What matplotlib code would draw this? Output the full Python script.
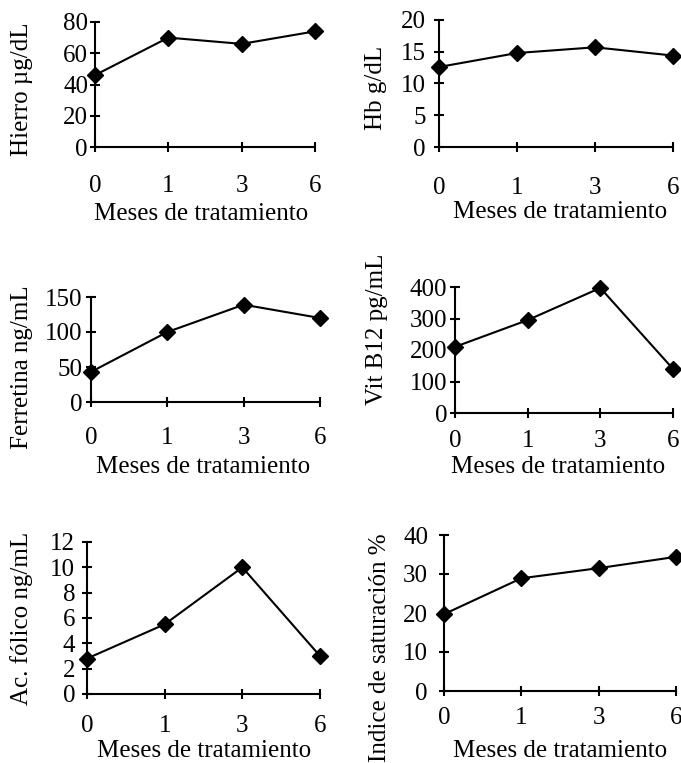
import matplotlib
matplotlib.use("Agg")
import matplotlib.pyplot as plt

plt.rcParams["font.family"] = ["Liberation Serif", "DejaVu Serif"]

# ---- data ---------------------------------------------------------------
months = ["0", "1", "3", "6"]
hierro = [46, 70, 66, 74]
hb = [12.6, 14.8, 15.7, 14.4]
ferritina = [43, 100, 139, 120]
vit_b12 = [210, 295, 397, 140]
ac_folico = [2.8, 5.5, 10.0, 3.0]
saturacion = [19.7, 28.9, 31.5, 34.4]

ylabels = ["Hierro µg/dL", "Hb g/dL", "Ferretina ng/mL",
           "Vit B12 pg/mL", "Ac. fólico ng/mL", "Indice de saturación %"]
yticks = [[0, 20, 40, 60, 80], [0, 5, 10, 15, 20], [0, 50, 100, 150],
          [0, 100, 200, 300, 400], [0, 2, 4, 6, 8, 10, 12],
          [0, 10, 20, 30, 40]]
xlabel = "Meses de tratamiento"
series = [hierro, hb, ferritina, vit_b12, ac_folico, saturacion]

# ---- layout (pixels) ----------------------------------------------------
W, H = 681, 763
PX = 72 / 100  # px -> pt
# left, top, right, bottom, ylabel x/y, xlabel x/baseline, xtick pad, ytick pad
layout = [
    (95, 22, 315, 147, 22, 89, 201, 220, 23, 2),
    (439, 20, 673, 147, 376, 88, 560, 218, 25, 8),
    (91, 297, 320, 402, 22, 367, 203, 473, 20, 4),
    (455, 287, 673, 413, 377, 329, 558, 473, 12, 3),
    (87, 542, 320, 694, 22, 618, 204, 757, 16, 7),
    (444, 535, 676, 691, 380, 648, 560, 757, 11, 11),
]

FS = 18
fig = plt.figure(figsize=(W / 100, H / 100), dpi=100)

for vals, ylab, yt, lay in zip(series, ylabels, yticks, layout):
    l, t, r, b, ylx, yly, xlx, xly, xpad, ypad = lay
    ax = fig.add_axes([l / W, 1 - b / H, (r - l) / W, (b - t) / H])
    ax.plot(range(len(months)), vals, color="black", lw=1.5,
            marker="D", ms=8, clip_on=False, zorder=5)
    ax.set_xlim(0, len(months) - 1)
    ax.set_ylim(0, yt[-1])
    ax.set_xticks(range(len(months)), months)
    ax.set_yticks(yt)
    for s in ("top", "right"):
        ax.spines[s].set_visible(False)
    for s in ("left", "bottom"):
        ax.spines[s].set_linewidth(1.5)
    ax.tick_params(direction="inout", length=10 * PX, width=1.5,
                   labelsize=FS, colors="black")
    ax.tick_params(axis="x", pad=xpad * PX)
    ax.tick_params(axis="y", pad=ypad * PX)
    fig.text(ylx / W, 1 - yly / H, ylab, rotation=90, ha="center",
             va="center", fontsize=FS)
    fig.text(xlx / W, 1 - xly / H, xlabel, ha="center", va="baseline",
             fontsize=FS)

fig.savefig("out.png", dpi=100)
